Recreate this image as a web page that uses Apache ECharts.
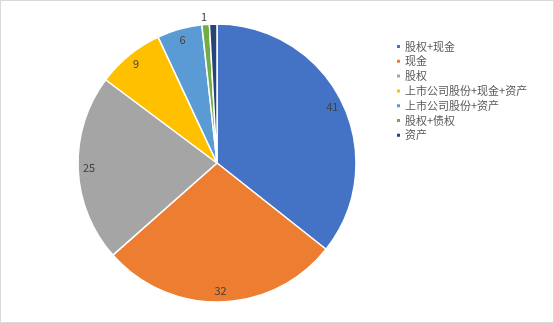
<!DOCTYPE html>
<html><head><meta charset="utf-8">
<script src="https://cdn.jsdelivr.net/npm/echarts@6/dist/echarts.min.js"></script>
<style>html,body{margin:0;padding:0;background:#fff}#c{position:absolute;left:0;top:0;width:552px;height:321px;border:1px solid #d9d9d9}</style>
</head><body><div id="c"></div>
<script>
const categories = ['股权+现金','现金','股权','上市公司股份+现金+资产','上市公司股份+资产','股权+债权','资产'];
const values = [41, 32, 25, 9, 6, 1, 1];
const colors = ['#4472C4','#ED7D31','#A5A5A5','#FFC000','#5B9BD5','#70AD47','#264478'];

const chart = echarts.init(document.getElementById('c'), null, {renderer:'canvas'});
const font = '"Noto Sans CJK SC", "Microsoft YaHei", sans-serif';
const center = [216, 162];
const R = 139;
const baseData = categories.map((n,i)=>({name:n, value:values[i], itemStyle:{color:colors[i]}}));
const labelData = categories.map((n,i)=>{
  const d = {name:n, value:values[i]};
  if (i === 5) {
    d.label = {position:'outside'};
    d.labelLine = {show:false, length:6, length2:0};
  }
  return d;
});
chart.setOption({
  animation:false,
  color: colors,
  legend:{
    orient:'vertical', left:389, top:35,
    itemWidth:5, itemHeight:5, itemGap:3.8, icon:'rect',
    textStyle:{color:'#595959', fontSize:11, fontFamily:font, padding:[0,0,0,-1]},
    data: categories
  },
  series:[
    {
      type:'pie', center:center, radius:[0,R], startAngle:90, clockwise:true,
      label:{show:false}, labelLine:{show:false}, silent:true,
      itemStyle:{borderColor:'#fff', borderWidth:1.5},
      data: baseData
    },
    {
      type:'pie', center:center, radius:[R*0.8, R], startAngle:90, clockwise:true,
      silent:true, legendHoverLink:false,
      itemStyle:{color:'rgba(0,0,0,0)', borderWidth:0},
      label:{show:true, position:'inside', color:'#404040', fontSize:11, fontFamily:font, formatter:'{c}'},
      labelLine:{show:false, length:2, length2:0},
      labelLayout: function (p) { return p.dataIndex === 5 ? {dx:7, dy:-2} : {}; },
      data: labelData
    }
  ]
});
</script></body></html>
